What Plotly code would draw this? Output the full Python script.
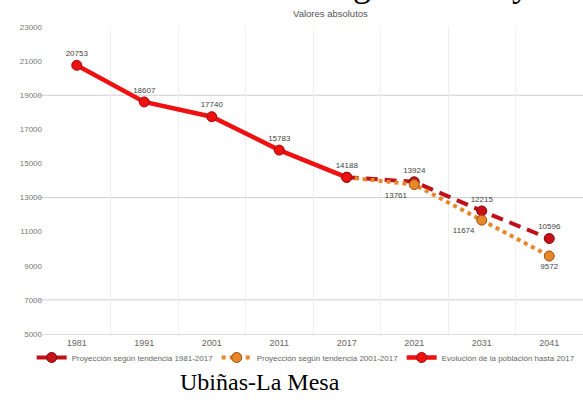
import plotly.graph_objects as go

categories = ["1981", "1991", "2001", "2011", "2017", "2021", "2031", "2041"]
evol_x = ["1981", "1991", "2001", "2011", "2017"]
evol_y = [20753, 18607, 17740, 15783, 14188]
proj_x = ["2017", "2021", "2031", "2041"]
proj81_y = [14188, 13924, 12215, 10596]
proj01_y = [14188, 13761, 11674, 9572]
y_ticks = [5000, 7000, 9000, 11000, 13000, 15000, 17000, 19000, 21000, 23000]
grid_major = [7000, 13000, 19000]

names = ["Proyección según tendencia 1981-2017",
         "Proyección según tendencia 2001-2017",
         "Evolución de la población hasta 2017"]

W, H = 583, 403
L, R, T, B = 43, 0, 27, 69
pw = W - L - R
ph = H - T - B

def px_x(p):
    return (p - L) / pw

def px_y(p):
    return (H - B - p) / ph

lbl_font = dict(family="Liberation Sans, Arial", size=8, color="#444")

fig = go.Figure()

fig.add_trace(go.Scatter(
    x=proj_x, y=proj81_y, name=names[0], mode="lines+markers+text",
    line=dict(color="#c0101a", width=4, dash="12px,7px"),
    marker=dict(size=10, color="#c8101a", line=dict(color="#7a0a0a", width=1)),
    text=[""] + [str(v) for v in proj81_y[1:]],
    textposition="top center", textfont=lbl_font, cliponaxis=False,
))
fig.add_trace(go.Scatter(
    x=proj_x, y=proj01_y, name=names[1], mode="lines+markers+text",
    line=dict(color="#e8862a", width=4, dash="dot"),
    marker=dict(size=10, color="#e8862a", line=dict(color="#9a5010", width=1)),
    text=[""] + [str(v) for v in proj01_y[1:]],
    textposition=["bottom center", "bottom left", "bottom left", "bottom center"],
    textfont=lbl_font, cliponaxis=False,
))
fig.add_trace(go.Scatter(
    x=evol_x, y=evol_y, name=names[2], mode="lines+markers+text",
    line=dict(color="#ee1111", width=4.5),
    marker=dict(size=10, color="#ee1111", line=dict(color="#a00a0a", width=1)),
    text=[str(v) for v in evol_y],
    textposition="top center", textfont=lbl_font, cliponaxis=False,
))

for g in grid_major:
    fig.add_shape(type="line", xref="paper", yref="y", x0=-0.008, x1=1,
                  y0=g, y1=g, line=dict(color="#cfcfcf", width=1), layer="below")

fig.add_annotation(text="Figura 7. Proyección de la población", xref="paper", yref="paper",
                   x=px_x(321), y=px_y(6), xanchor="left", yanchor="bottom",
                   showarrow=False,
                   font=dict(family="Liberation Serif, Times New Roman", size=36, color="#000"))
fig.add_annotation(text="Valores absolutos", xref="paper", yref="paper",
                   x=px_x(330), y=px_y(14), xanchor="center", yanchor="middle",
                   showarrow=False,
                   font=dict(family="Liberation Sans, Arial", size=9.5, color="#555"))
fig.add_annotation(text="Ubiñas-La Mesa", xref="paper", yref="paper",
                   x=px_x(260), y=px_y(382), xanchor="center", yanchor="middle",
                   showarrow=False,
                   font=dict(family="Liberation Serif, Times New Roman", size=24, color="#000"))

fig.update_layout(
    width=W, height=H,
    margin=dict(l=L, r=R, t=T, b=B, autoexpand=False),
    paper_bgcolor="white", plot_bgcolor="white",
    font=dict(family="Liberation Sans, Arial", size=9, color="#666"),
    showlegend=True,
    legend=dict(orientation="h", x=-0.021, y=px_y(343), xanchor="left", yanchor="top",
                font=dict(size=8, color="#666"), itemwidth=30,
                entrywidth=140, entrywidthmode="pixels",
                bgcolor="rgba(0,0,0,0)", tracegroupgap=0),
    xaxis=dict(type="category", categoryorder="array", categoryarray=categories,
               range=[-0.5, len(categories) - 0.5], tickson="boundaries",
               showgrid=True, gridcolor="#eeeeee", gridwidth=1,
               showline=True, linecolor="#dddddd", ticks="", zeroline=False,
               tickfont=dict(size=9, color="#666")),
    yaxis=dict(range=[5000, 23000], tickvals=y_ticks,
               ticktext=[str(v) for v in y_ticks],
               showgrid=False, zeroline=False, ticks="", showline=False,
               tickfont=dict(size=8, color="#777")),
)

fig.write_html("out.html", config={"displayModeBar": False},
               post_script="document.body.style.margin='0px';")
